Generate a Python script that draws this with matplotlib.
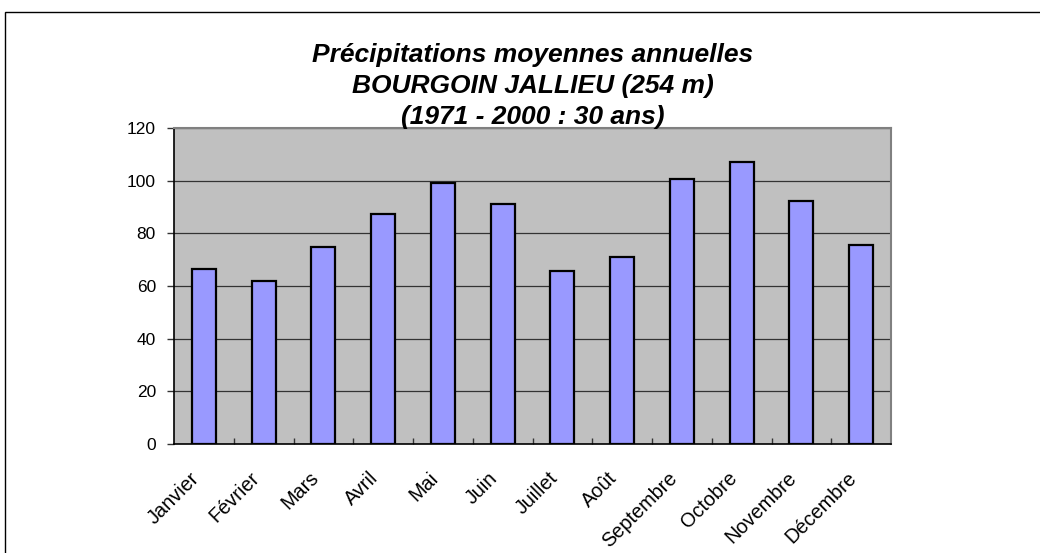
import matplotlib
matplotlib.use("Agg")
import matplotlib.pyplot as plt
from matplotlib.patches import Rectangle

months = ["Janvier", "Février", "Mars", "Avril", "Mai", "Juin", "Juillet",
          "Août", "Septembre", "Octobre", "Novembre", "Décembre"]
precip = [66.3, 61.9, 74.7, 87.2, 99.2, 91.3, 65.6, 71.0, 100.6, 107.2, 92.3, 75.5]
yticks = [0, 20, 40, 60, 80, 100, 120]
title_lines = ["Précipitations moyennes annuelles",
               "BOURGOIN JALLIEU (254 m)",
               "(1971 - 2000 : 30 ans)"]

plt.rcParams['font.family'] = ['Liberation Sans', 'DejaVu Sans']

W, H = 1040, 553
fig = plt.figure(figsize=(W / 100, H / 100), dpi=100)
fig.patch.set_facecolor('white')

# outer chart frame
fig.patches.append(Rectangle((5 / W, -0.1), 1.2, (H - 12) / H + 0.1,
                             transform=fig.transFigure, fill=False,
                             edgecolor='black', linewidth=1.0))

left, right, top, bottom = 174, 891, 128, 444
ax = fig.add_axes([left / W, 1 - bottom / H, (right - left) / W, (bottom - top) / H])
ax.set_facecolor('#C0C0C0')

x = list(range(len(months)))
ax.bar(x, precip, width=0.4, color='#9999FF', edgecolor='black', linewidth=1.6, zorder=3)

ax.set_xlim(-0.5, len(months) - 0.5)
ax.set_ylim(0, 120)
ax.set_yticks(yticks)
ax.set_yticklabels([str(v) for v in yticks], fontsize=12.5)
ax.yaxis.grid(True, color='#333333', linewidth=0.9, zorder=1)
ax.set_axisbelow(True)

ax.set_xticks([i + 0.5 for i in x[:-1]], minor=False)
ax.set_xticklabels([])
ax.tick_params(axis='x', direction='in', length=4, width=1, color='#333333')
ax.tick_params(axis='y', direction='out', length=5, width=1, color='#333333', pad=8)

for i, m in enumerate(months):
    ax.text(i - 0.24, -9.3, m, rotation=45, ha='right', va='top', fontsize=14.3,
            rotation_mode='anchor')

for s in ['left', 'bottom']:
    ax.spines[s].set_color('black')
    ax.spines[s].set_linewidth(1.2)
for s in ['top', 'right']:
    ax.spines[s].set_color('#808080')
    ax.spines[s].set_linewidth(1.5)

cx = (left + right) / 2 / W
for k, line in enumerate(title_lines):
    fig.text(cx, 1 - (62 + 31 * k) / H, line, ha='center', va='baseline',
             fontsize=19, fontweight='bold', fontstyle='italic')

fig.savefig('out.png', dpi=100)
